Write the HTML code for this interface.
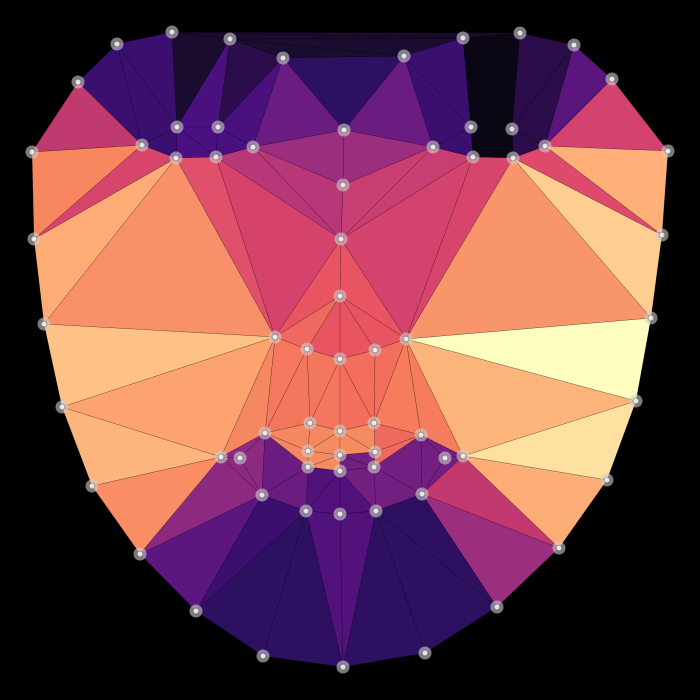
<!DOCTYPE html>
<html><head><meta charset="utf-8"><style>
html,body{margin:0;padding:0;background:#000;}
svg{display:block;}
</style></head><body>
<svg id="chart" width="700" height="700" viewBox="0 0 700 700">
<rect width="700" height="700" fill="#000"/>
<g id="tris"></g>
<g id="pts"></g>
</svg>
<script>
const xs=[117,172,230,283,404,463,520,574,612,668,662,651,636,607,559,497,425,343,263,196,140,92,62,44,34,32,78,
142,177,218,253,176,216,344,343,341,340,433,471,512,545,473,513,275,406,307,340,375,310,340,374,265,421,221,240,445,463,308,340,375,308,340,374,262,422,306,340,376];
const ys=[44,32,39,58,56,38,33,45,79,151,235,318,401,480,548,607,653,667,656,611,554,486,407,324,239,152,82,
145,127,127,147,158,157,130,185,239,296,147,127,129,146,157,158,337,339,349,359,350,423,431,423,433,435,457,458,458,456,451,455,452,467,471,467,495,494,511,514,511];
const anchorX=[150,120,200,250,230,300,345,390,430,470,500,540,580,620,70,80,40,100,70,160,245,275,290,320,370,390,410,430,540,600,620,590,360,320,300,290,160,150,100,150,110,560,520,560,550,530,320,360,300,340,395,440,480,250,290,230,240,200,230,290,320,380,410,460,500,450,560,430,350,400,340,345,200,480];
const anchorY=[60,100,50,80,110,95,80,95,90,70,80,90,80,110,110,150,190,175,270,270,230,270,180,160,160,200,260,230,250,200,160,170,330,320,320,350,360,420,430,470,520,360,380,420,450,490,380,390,440,445,440,400,420,470,470,520,550,570,620,600,580,600,560,560,540,490,490,470,480,470,500,45,40,40];
const anchorC=["#3b0f70","#3b0f70","#1a0c2e","#2a0d4a","#4a1080","#6a1c81","#2d1160","#6a1c81","#3b0f70","#1a0c2e","#0a0614","#2a0d4a","#5a167e","#d3436e","#c13a6f","#f8875f","#fb8861","#d8456c","#fdac75","#f8916a","#e0506a","#d5436c","#b73779","#9c2e7f","#9c2e7f","#c83e73","#d3436e","#d8456c","#f8956b","#fece91","#feb078","#dd4a6b","#e95462","#e95462","#ef6a5e","#f4775e","#fec287","#fca36f","#fdb57d","#f98d63","#f07a5e","#fcfdbf","#fdb47b","#fda46f","#fee0a0","#fcae76","#f3775d","#f36e5c","#f58860","#f48b61","#ef6a5e","#f57d5d","#fcad76","#8c2981","#6a1c81","#8c2981","#3b0f70","#5c167f","#5c167f","#2d1160","#51127c","#2d1160","#2d1160","#3b0f70","#9b2e7f","#c2386f","#fcae76","#721f81","#721f81","#721f81","#51127c","#1a0c2e","#1a0c2e","#1a0c2e"];

function delaunay(px,py){
  const n=px.length;const P=px.map((x,i)=>[x,py[i]]);
  P.push([-5000,-5000],[5000,-5000],[350,8000]);
  let tris=[[n,n+1,n+2]];
  function circ(t){const [a,b,c]=t.map(i=>P[i]);
    const d=2*(a[0]*(b[1]-c[1])+b[0]*(c[1]-a[1])+c[0]*(a[1]-b[1]));
    const ux=((a[0]*a[0]+a[1]*a[1])*(b[1]-c[1])+(b[0]*b[0]+b[1]*b[1])*(c[1]-a[1])+(c[0]*c[0]+c[1]*c[1])*(a[1]-b[1]))/d;
    const uy=((a[0]*a[0]+a[1]*a[1])*(c[0]-b[0])+(b[0]*b[0]+b[1]*b[1])*(a[0]-c[0])+(c[0]*c[0]+c[1]*c[1])*(b[0]-a[0]))/d;
    return [ux,uy,(a[0]-ux)**2+(a[1]-uy)**2];}
  for(let i=0;i<n;i++){
    const [x,y]=P[i];const bad=[],good=[];
    for(const t of tris){const c=circ(t);((x-c[0])**2+(y-c[1])**2<c[2])?bad.push(t):good.push(t);}
    const edges=[];
    for(const t of bad)for(const e of [[t[0],t[1]],[t[1],t[2]],[t[2],t[0]]]){
      const k=edges.findIndex(f=>(f[0]===e[1]&&f[1]===e[0])||(f[0]===e[0]&&f[1]===e[1]));
      if(k>=0)edges.splice(k,1);else edges.push(e);}
    tris=good;for(const e of edges)tris.push([e[0],e[1],i]);
  }
  return tris.filter(t=>t.every(i=>i<n));
}
const NS="http://www.w3.org/2000/svg";
const tg=document.getElementById('tris'),pg=document.getElementById('pts');
const T=delaunay(xs,ys);
T.forEach((t,k)=>{
  const cx=(xs[t[0]]+xs[t[1]]+xs[t[2]])/3,cy=(ys[t[0]]+ys[t[1]]+ys[t[2]])/3;
  let best=0,bd=1e12;
  for(let j=0;j<anchorX.length;j++){const d=(anchorX[j]-cx)**2+(anchorY[j]-cy)**2;if(d<bd){bd=d;best=j;}}
  const p=document.createElementNS(NS,'polygon');
  p.setAttribute('points',t.map(i=>xs[i]+','+ys[i]).join(' '));
  p.setAttribute('fill',anchorC[best]);
  p.setAttribute('stroke','rgba(0,0,0,0.35)');
  p.setAttribute('stroke-width','0.5');
  
  
  tg.appendChild(p);
});
xs.forEach((x,i)=>{
  const g=document.createElementNS(NS,'g');
  
  
  const c1=document.createElementNS(NS,'circle');
  c1.setAttribute('cx',x);c1.setAttribute('cy',ys[i]);c1.setAttribute('r',6.5);
  c1.setAttribute('fill','rgba(205,205,205,0.6)');
  const c2=document.createElementNS(NS,'circle');
  c2.setAttribute('cx',x);c2.setAttribute('cy',ys[i]);c2.setAttribute('r',2.8);
  c2.setAttribute('fill','rgba(255,255,255,0.8)');
  c2.setAttribute('stroke','rgba(100,100,100,0.5)');c2.setAttribute('stroke-width','1');
  g.appendChild(c1);g.appendChild(c2);pg.appendChild(g);
});
</script>
</body></html>
